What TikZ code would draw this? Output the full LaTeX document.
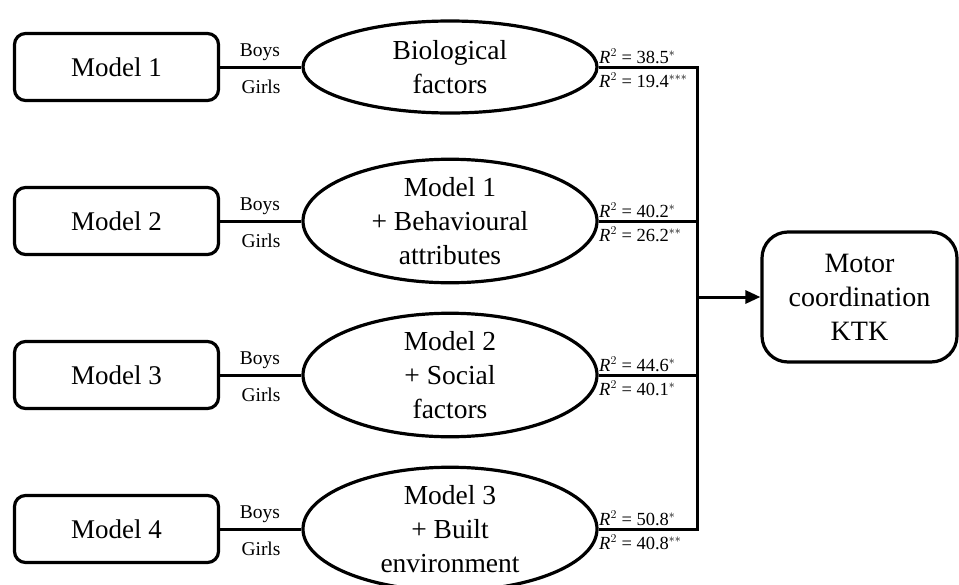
\documentclass[tikz,border=0pt]{standalone}
\usepackage{fontspec}
\setmainfont{Liberation Serif}
\usetikzlibrary{shapes.geometric,arrows.meta}
\begin{document}
\begin{tikzpicture}[x=1pt,y=-1pt,
  modelbox/.style={draw,line width=3.2pt,rounded corners=11pt,minimum width=204pt,minimum height=67pt,inner sep=0pt,font=\fontsize{27}{32}\selectfont},
  oval/.style={draw,line width=3.2pt,ellipse,minimum width=294pt,inner sep=0pt,align=center,font=\fontsize{27.5}{34}\selectfont},
  conn/.style={line width=3pt},
  sex/.style={font=\fontsize{19.5}{22}\selectfont,inner sep=0pt},
  rsq/.style={font=\fontsize{18.5}{21}\selectfont,inner sep=1pt}
]
\useasboundingbox (0,0) rectangle (959,584);
\foreach \i/\y in {1/67,2/221,3/375,4/529}{
  \node[modelbox] (m\i) at (116.5,\y) {Model \i};
}
\node[oval,minimum height=92pt] (e1) at (450,67) {Biological\\factors};
\node[oval,minimum height=104pt] (e2) at (450,221) {Model 1\\+ Behavioural\\attributes};
\node[oval,minimum height=104pt] (e3) at (450,375) {Model 2\\+ Social\\factors};
\node[oval,minimum height=104pt] (e4) at (450,529) {Model 3\\+ Built\\environment};
\node[draw,line width=3.2pt,rounded corners=26pt,minimum width=195pt,minimum height=130pt,inner sep=0pt,align=center,font=\fontsize{28}{34}\selectfont] (out) at (859.5,297) {Motor\\coordination\\KTK};
\foreach \i/\y in {1/67,2/221,3/375,4/529}{
  \draw[conn] (m\i.east) -- (e\i.west);
  \node[sex] at (260,\y-15) {Boys};
  \node[sex] at (261,\y+20) {Girls};
  \coordinate (j\i) at (697,\y);
  \draw[conn] (e\i.east) -- (j\i);
}
\draw[conn,line cap=rect] (j1) -- (j4);
\coordinate (ja) at (697,297);
\draw[conn,-{Triangle[length=15pt,width=13pt]}] (ja) -- (out.west);
\foreach \y/\a/\b in {67/38.5$^{*}$/19.4$^{***}$,221/40.2$^{*}$/26.2$^{**}$,375/44.6$^{*}$/40.1$^{*}$,529/50.8$^{*}$/40.8$^{**}$}{
  \node[rsq,anchor=south west] at (598,\y-2.5) {\textit{R}$^2$ = \a};
  \node[rsq,anchor=north west] at (598,\y+5) {\textit{R}$^2$ = \b};
}
\end{tikzpicture}
\end{document}
